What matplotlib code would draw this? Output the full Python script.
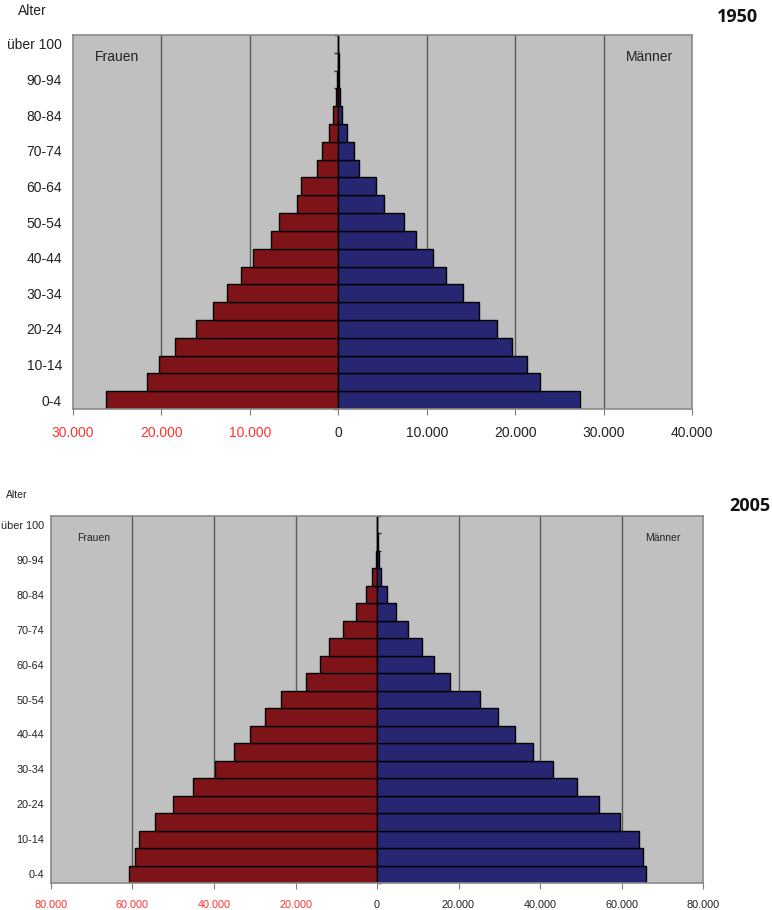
import matplotlib
matplotlib.use("Agg")
import matplotlib.pyplot as plt

plt.rcParams['font.family'] = ['Liberation Sans', 'DejaVu Sans']

age_groups = ["0-4", "5-9", "10-14", "15-19", "20-24", "25-29", "30-34", "35-39",
              "40-44", "45-49", "50-54", "55-59", "60-64", "65-69", "70-74", "75-79",
              "80-84", "85-89", "90-94", "95-99", "über 100"]

frauen_1950 = [26300, 21600, 20300, 18500, 16100, 14200, 12600, 11050, 9600, 7650,
               6700, 4700, 4200, 2400, 1800, 1060, 570, 260, 100, 30, 10]
maenner_1950 = [27350, 22800, 21300, 19600, 17900, 15900, 14100, 12200, 10700, 8750,
                7400, 5170, 4260, 2380, 1770, 1020, 380, 200, 80, 30, 10]

frauen_2005 = [60800, 59400, 58500, 54500, 50100, 45100, 39800, 35200, 31200, 27400,
               23500, 17500, 14100, 11800, 8300, 5150, 2600, 1140, 300, 100, 20]
maenner_2005 = [66100, 65200, 64400, 59700, 54600, 49100, 43300, 38200, 33900, 29700,
                25300, 17900, 14100, 11000, 7600, 4660, 2400, 1000, 400, 150, 30]

xticks_1950 = [-30000, -20000, -10000, 0, 10000, 20000, 30000, 40000]
xticks_2005 = [-80000, -60000, -40000, -20000, 0, 20000, 40000, 60000, 80000]

FEMALE = "#7F1418"
MALE = "#262673"
BG = "#C0C0C0"

fig = plt.figure(figsize=(7.72, 9.10), dpi=100)

def fmt(v):
    return f"{abs(int(v)):,}".replace(",", ".")

def draw(ax, fem, mal, xticks, fs, ypad):
    y = list(range(len(age_groups)))
    ax.set_facecolor(BG)
    for xt in xticks[1:-1]:
        if xt != 0:
            ax.axvline(xt, color="#5a5a5a", lw=1.0, zorder=1)
    ax.barh(y, [-v for v in fem], height=1.0, color=FEMALE, edgecolor="black", linewidth=1.0, zorder=2)
    ax.barh(y, mal, height=1.0, color=MALE, edgecolor="black", linewidth=1.0, zorder=2)
    ax.axvline(0, color="#5a5a5a", lw=1.0, zorder=1.5)
    ax.set_xlim(xticks[0], xticks[-1])
    ax.set_ylim(-0.5, len(age_groups) - 0.5)
    ax.set_yticks(y[::2])
    ax.set_yticklabels(age_groups[::2], fontsize=fs, color="#222222")
    ax.tick_params(axis="y", length=0, pad=ypad)
    ax.set_xticks(xticks)
    ax.set_xticklabels([fmt(v) for v in xticks], fontsize=fs)
    for lbl, v in zip(ax.get_xticklabels(), xticks):
        lbl.set_color("#FF3333" if v < 0 else "#222222")
    ax.tick_params(axis="x", length=4, color="#7f7f7f", pad=8)
    for sp in ax.spines.values():
        sp.set_color("#8a8a8a")
        sp.set_linewidth(1.2)
    # category axis at x = 0 with small tick marks at the category boundaries
    zero_frac = (0 - xticks[0]) / (xticks[-1] - xticks[0])
    sec = ax.secondary_yaxis(zero_frac)
    sec.set_yticks([k - 0.5 for k in range(len(age_groups) + 1)])
    sec.set_yticklabels([])
    sec.tick_params(axis="y", length=3, width=1.0, color="#333333", direction="out")
    sec.spines["left"].set_visible(False)
    for sp in sec.spines.values():
        sp.set_visible(False)

ax1 = fig.add_axes([73/772, 1-409/910, 619/772, 374/910])
draw(ax1, frauen_1950, maenner_1950, xticks_1950, 10, 8)
ax1.text(0.0355, 0.94, "Frauen", transform=ax1.transAxes, fontsize=10, color="#222222", va="center", ha="left")
ax1.text(0.97, 0.94, "Männer", transform=ax1.transAxes, fontsize=10, color="#222222", va="center", ha="right")
fig.text(18/772, 1-11/910, "Alter", fontsize=10, color="#222222", va="center", ha="left")
fig.text(758/772, 1-17/910, "1950", fontsize=13, fontweight="bold", family=["Open Sans", "DejaVu Sans"], color="#111111", va="center", ha="right")

ax2 = fig.add_axes([51/772, 1-883/910, 652/772, 367/910])
draw(ax2, frauen_2005, maenner_2005, xticks_2005, 7.8, 5)
ax2.text(0.04, 0.94, "Frauen", transform=ax2.transAxes, fontsize=7.5, color="#222222", va="center", ha="left")
ax2.text(0.965, 0.94, "Männer", transform=ax2.transAxes, fontsize=7.5, color="#222222", va="center", ha="right")
fig.text(6/772, 1-495/910, "Alter", fontsize=7.5, color="#222222", va="center", ha="left")
fig.text(770/772, 1-506/910, "2005", fontsize=13, fontweight="bold", family=["Open Sans", "DejaVu Sans"], color="#111111", va="center", ha="right")

fig.savefig("out.png", dpi=100, facecolor="white")
